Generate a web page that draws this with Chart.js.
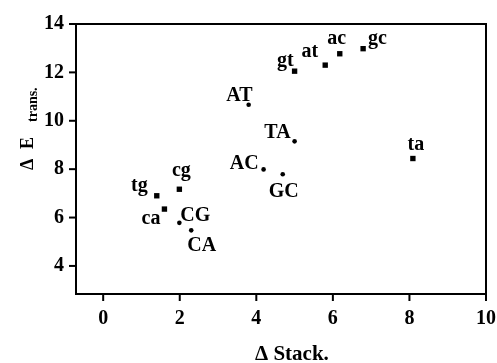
<!DOCTYPE html>
<html>
<head>
<meta charset="utf-8">
<script src="https://cdn.jsdelivr.net/npm/chart.js@4"></script>
<style>
  html, body { margin: 0; padding: 0; background: #fff; }
  #wrap { width: 497px; height: 363px; }
</style>
</head>
<body>
<div id="wrap"><canvas id="chart" width="497" height="363"></canvas></div>
<script>
// datos
const lowerLabels = ['gt', 'at', 'ac', 'gc', 'ta', 'tg', 'cg', 'ca'];
const lowerStack = [5.0, 5.8, 6.18, 6.79, 8.09, 1.4, 1.99, 1.6];
const lowerEtrans = [12.05, 12.3, 12.77, 12.98, 8.44, 6.9, 7.17, 6.35];

const upperLabels = ['AT', 'TA', 'AC', 'GC', 'CG', 'CA'];
const upperStack = [3.8, 5.0, 4.19, 4.69, 1.99, 2.3];
const upperEtrans = [10.66, 9.15, 7.99, 7.79, 5.78, 5.47];

const xTicks = [0, 2, 4, 6, 8, 10];
const yTicks = [4, 6, 8, 10, 12, 14];

const serif = '"Liberation Serif", "DejaVu Serif", serif';

// posición de cada etiqueta respecto a su punto (px)
const labelPos = {
    gt: ['right', -1, -5], at: ['right', -7, -8], ac: ['center', -3, -10],
    gc: ['left', 5, -5], ta: ['center', 3, -9], tg: ['right', -9, -5],
    cg: ['center', 2, -13], ca: ['right', -4, 15],
    AT: ['right', 4, -4], TA: ['right', -4, -3], AC: ['right', -5, 0],
    GC: ['left', -14, 23], CG: ['left', 1, -2], CA: ['left', -4, 21]
};

function toPoints(xs, ys, labels) {
    return xs.map((x, i) => ({ x: x, y: ys[i], label: labels[i] }));
}

const decorPlugin = {
    id: 'decor',
    afterDraw(chart) {
        const ctx = chart.ctx;
        const a = chart.chartArea;
        const sx = chart.scales.x;
        const sy = chart.scales.y;
        ctx.save();
        ctx.fillStyle = '#000';
        ctx.strokeStyle = '#000';

        // marco
        ctx.lineWidth = 2;
        ctx.strokeRect(a.left, a.top, a.right - a.left, a.bottom - a.top);

        // marcas de los ejes
        for (const v of xTicks) {
            const px = sx.getPixelForValue(v);
            ctx.fillRect(px - 1, a.bottom, 2, 7);
        }
        for (const v of yTicks) {
            const py = sy.getPixelForValue(v);
            ctx.fillRect(a.left - 7, py - 1, 7, 2);
        }

        // etiquetas de los puntos
        ctx.font = 'bold 20px ' + serif;
        ctx.textBaseline = 'alphabetic';
        chart.data.datasets.forEach((ds, di) => {
            const meta = chart.getDatasetMeta(di);
            meta.data.forEach((el, i) => {
                const lab = ds.data[i].label;
                const p = labelPos[lab];
                ctx.textAlign = p[0];
                ctx.fillText(lab, el.x + p[1], el.y + p[2]);
            });
        });

        // título eje x
        ctx.textAlign = 'left';
        ctx.font = 'bold 21px ' + serif;
        ctx.fillText('\u0394 Stack.', 255, 360);

        // título eje y con subíndice
        ctx.translate(33, 170);
        ctx.rotate(-Math.PI / 2);
        ctx.font = 'bold 18px ' + serif;
        ctx.fillText('\u0394', 0, 0);
        ctx.fillText('E', 21, 0);
        ctx.font = 'bold 14px ' + serif;
        ctx.fillText('trans.', 48, 4);
        ctx.restore();
    }
};

new Chart(document.getElementById('chart').getContext('2d'), {
    type: 'scatter',
    data: {
        datasets: [{
            data: toPoints(lowerStack, lowerEtrans, lowerLabels),
            pointStyle: 'rect',
            pointRadius: 3.8,
            backgroundColor: '#000',
            borderColor: '#000',
            borderWidth: 0
        }, {
            data: toPoints(upperStack, upperEtrans, upperLabels),
            pointStyle: 'circle',
            pointRadius: 2.3,
            backgroundColor: '#000',
            borderColor: '#000',
            borderWidth: 0
        }]
    },
    options: {
        responsive: false,
        animation: false,
        events: [],
        layout: { padding: { top: 22, right: 11, left: 0, bottom: 0 } },
        plugins: { legend: { display: false }, tooltip: { enabled: false } },
        scales: {
            x: {
                type: 'linear',
                min: -0.71,
                max: 10,
                afterBuildTicks: s => { s.ticks = xTicks.map(v => ({ value: v })); },
                afterFit: s => { s.height = 69; s.paddingLeft = 0; s.paddingRight = 0; },
                border: { display: false },
                grid: { display: false, drawTicks: false },
                ticks: { color: '#000', padding: 13, font: { family: serif, size: 20, weight: 'bold' } }
            },
            y: {
                type: 'linear',
                min: 2.84,
                max: 14,
                afterBuildTicks: s => { s.ticks = yTicks.map(v => ({ value: v })); },
                afterFit: s => { s.width = 76; },
                border: { display: false },
                grid: { display: false, drawTicks: false },
                ticks: { color: '#000', padding: 12, font: { family: serif, size: 20, weight: 'bold' } }
            }
        }
    },
    plugins: [decorPlugin]
});
</script>
</body>
</html>
